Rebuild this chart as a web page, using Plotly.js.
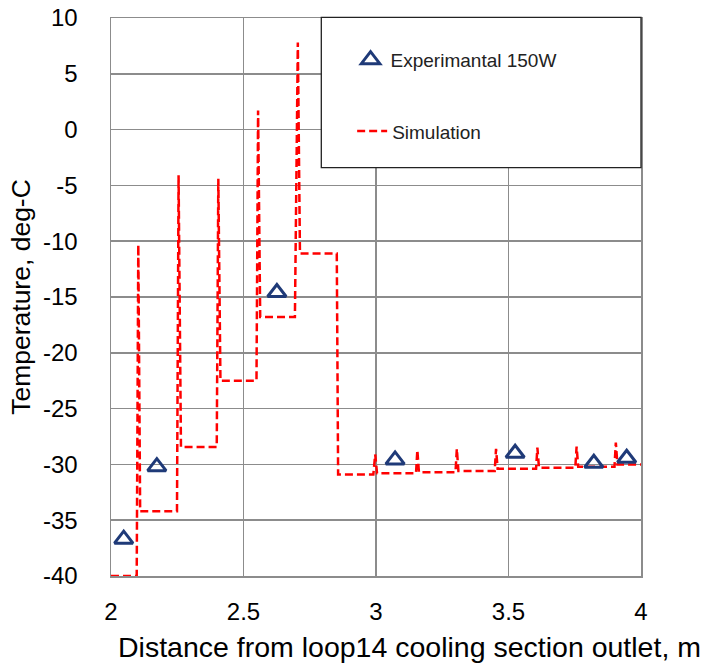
<!DOCTYPE html>
<html>
<head>
<meta charset="utf-8">
<script src="https://cdn.plot.ly/plotly-3.0.1.min.js"></script>
<style>
  html, body { margin: 0; padding: 0; background: #ffffff; }
  #chart { width: 702px; height: 664px; }
</style>
</head>
<body>
<div id="chart"></div>
<script>
// Experimental data (triangles)
const expX = [2.048, 2.173, 2.626, 3.072, 3.525, 3.822, 3.946];
const expY = [-36.7, -30.2, -14.6, -29.6, -29.0, -29.9, -29.45];

// Simulation (dashed step line with spikes)
const simX = [
  2.000, 2.097, 2.103, 2.110, 2.249, 2.255, 2.264, 2.399, 2.405, 2.413,
  2.549, 2.555, 2.563, 2.694, 2.705, 2.713, 2.852, 2.857, 2.990, 2.997,
  3.004, 3.151, 3.156, 3.162, 3.300, 3.305, 3.311, 3.448, 3.453, 3.459,
  3.604, 3.609, 3.615, 3.752, 3.757, 3.763, 3.900, 3.905, 3.911, 4.000
];
const simY = [
  -40.0, -40.0, -10.3, -34.2, -34.2, -4.1, -28.45, -28.45, -4.4, -22.5,
  -22.5, 1.7, -16.8, -16.8, 7.8, -11.1, -11.1, -30.9, -30.9, -29.1,
  -30.8, -30.8, -28.7, -30.7, -30.7, -28.6, -30.6, -30.6, -28.6, -30.4,
  -30.4, -28.5, -30.3, -30.3, -28.4, -30.2, -30.2, -28.05, -30.0, -30.0
];

const xTicks = [2, 2.5, 3, 3.5, 4];
const yTicks = [-40, -35, -30, -25, -20, -15, -10, -5, 0, 5, 10];

const xTitle = 'Distance from loop14 cooling section outlet, m';
const yTitle = 'Temperature, deg-C';

const font = 'Liberation Sans, Arial, sans-serif';
const gridCol = '#8c8c8c';

const traces = [
  {
    x: simX, y: simY,
    type: 'scatter', mode: 'lines',
    name: 'Simulation',
    line: { color: '#ff0000', width: 2.5, dash: '8px,4px' },
    legend: 'legend2',
    showlegend: true
  },
  {
    x: expX, y: expY,
    type: 'scatter', mode: 'markers',
    name: 'Experimantal 150W',
    marker: { symbol: 'triangle-up-open', size: 16, color: '#1f3a78', line: { color: '#1f3a78', width: 3 } },
    legend: 'legend',
    showlegend: true
  }
];

const layout = {
  width: 702, height: 664,
  margin: { l: 111, r: 61, t: 18, b: 88 },
  paper_bgcolor: '#ffffff',
  plot_bgcolor: '#ffffff',
  font: { family: font, color: '#000000', size: 20 },
  xaxis: {
    range: [2, 4],
    tickvals: xTicks,
    ticktext: xTicks.map(String),
    showgrid: true, gridcolor: gridCol, gridwidth: 1.5,
    showline: true, linecolor: gridCol, linewidth: 1.5, mirror: true,
    zeroline: false, ticks: '',
    ticklabelstandoff: 14,
    tickfont: { family: font, size: 24, color: '#000' }
  },
  yaxis: {
    range: [-40, 10],
    tickvals: yTicks,
    ticktext: yTicks.map(String),
    showgrid: true, gridcolor: gridCol, gridwidth: 1.5,
    showline: true, linecolor: gridCol, linewidth: 1.5, mirror: true,
    zeroline: false, ticks: '',
    ticklabelstandoff: 27,
    tickfont: { family: font, size: 24, color: '#000' },
    title: { text: yTitle, font: { family: font, size: 26.5, color: '#000' }, standoff: 4 }
  },
  annotations: [
    { text: xTitle, xref: 'paper', yref: 'paper', x: 0.5625, y: -0.1273,
      xanchor: 'center', yanchor: 'middle', showarrow: false,
      font: { family: font, size: 28.5, color: '#000' } }
  ],
  shapes: [
    { type: 'rect', xref: 'paper', yref: 'paper', x0: 0.3968, x1: 1.0, y0: 0.7320, y1: 1.001,
      fillcolor: '#ffffff', line: { color: '#222222', width: 1.3 }, layer: 'above' }
  ],
  legend: {
    x: 0.452, y: 0.925, xanchor: 'left', yanchor: 'middle',
    bgcolor: 'rgba(0,0,0,0)', borderwidth: 0,
    font: { family: font, size: 19, color: '#222' }
  },
  legend2: {
    x: 0.455, y: 0.797, xanchor: 'left', yanchor: 'middle',
    bgcolor: 'rgba(0,0,0,0)', borderwidth: 0,
    font: { family: font, size: 19, color: '#222' }
  },
  showlegend: true
};

Plotly.newPlot('chart', traces, layout, { displayModeBar: false, staticPlot: true });
</script>
</body>
</html>
